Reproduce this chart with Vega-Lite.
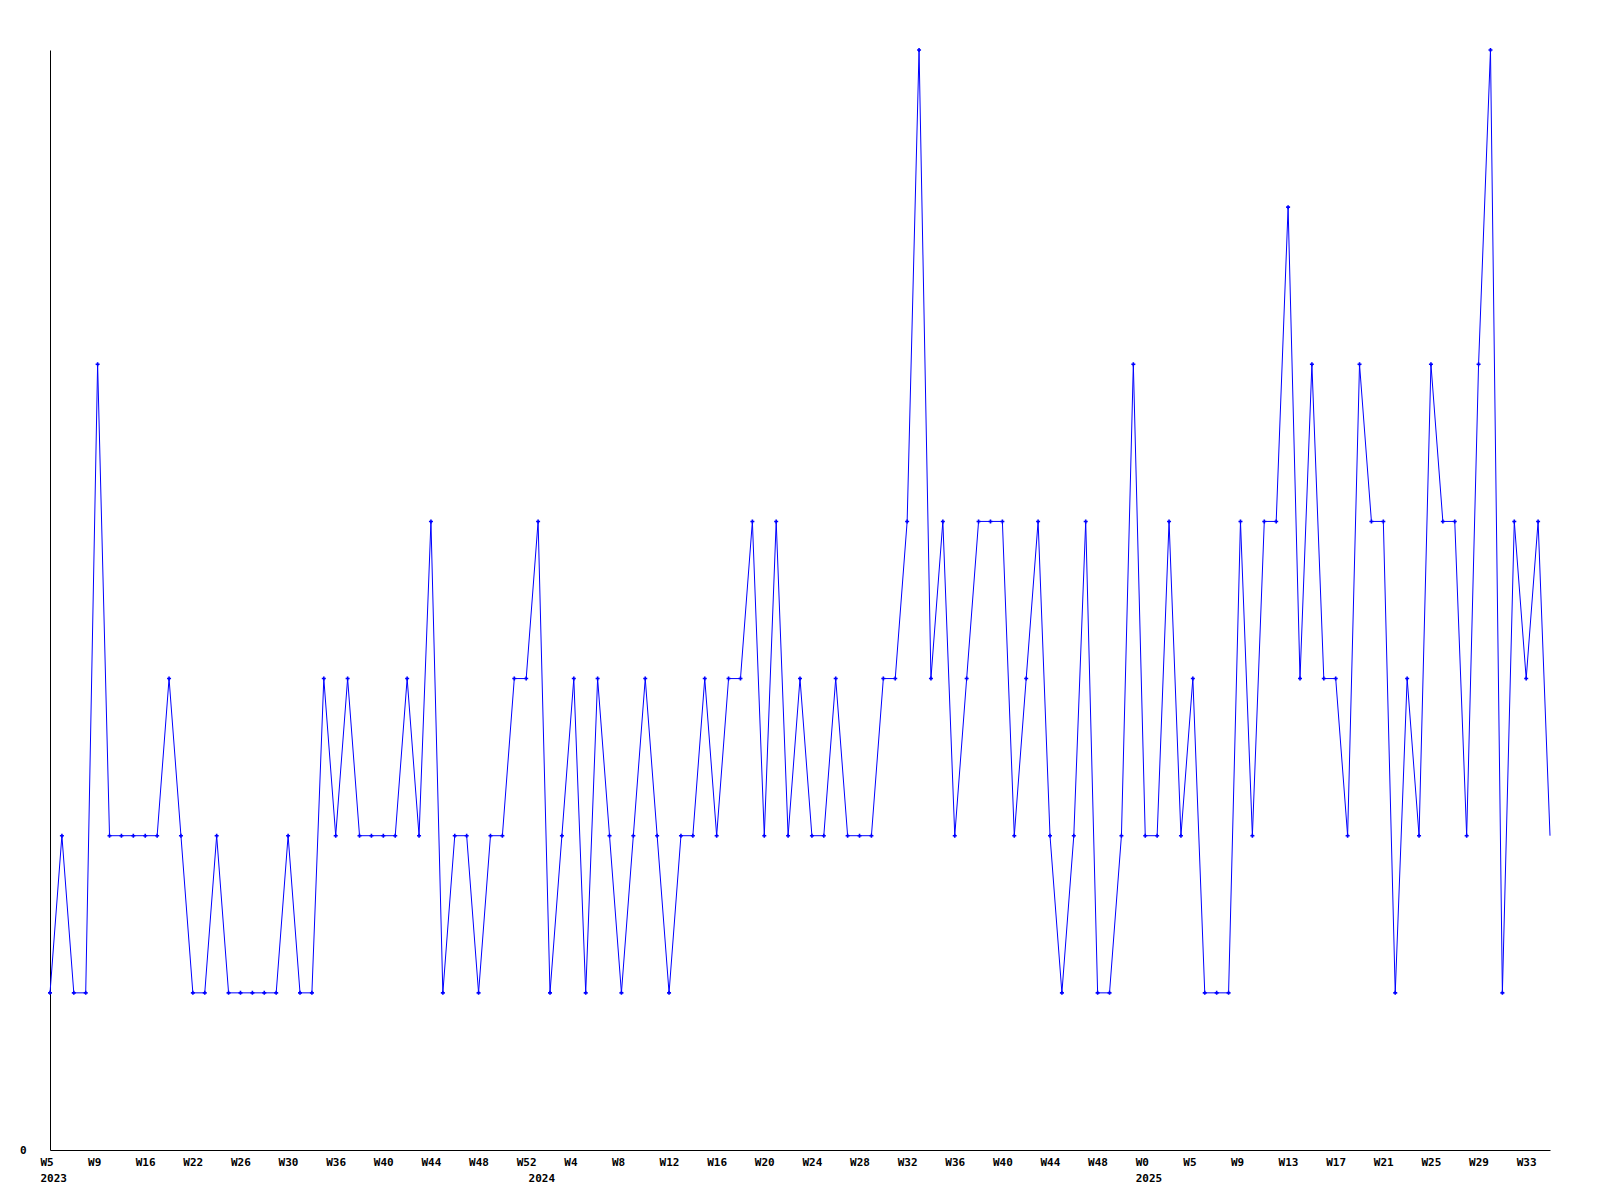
{
  "$schema": "https://vega.github.io/schema/vega-lite/v6.json",
  "width": 1500,
  "height": 1100,
  "autosize": {"type": "none"},
  "padding": {"left": 50, "top": 50, "right": 50, "bottom": 50},
  "background": "white",
  "config": {
    "view": {"stroke": null},
    "axis": {
      "labelFont": "DejaVu Sans Mono",
      "labelFontWeight": "bold",
      "labelFontSize": 11,
      "labelColor": "black",
      "domainColor": "black",
      "domainWidth": 1,
      "grid": false,
      "ticks": false
    }
  },
  "data": {
    "values": [
      {"i": 0, "v": 1}, {"i": 1, "v": 2}, {"i": 2, "v": 1}, {"i": 3, "v": 1}, {"i": 4, "v": 5},
      {"i": 5, "v": 2}, {"i": 6, "v": 2}, {"i": 7, "v": 2}, {"i": 8, "v": 2}, {"i": 9, "v": 2},
      {"i": 10, "v": 3}, {"i": 11, "v": 2}, {"i": 12, "v": 1}, {"i": 13, "v": 1}, {"i": 14, "v": 2},
      {"i": 15, "v": 1}, {"i": 16, "v": 1}, {"i": 17, "v": 1}, {"i": 18, "v": 1}, {"i": 19, "v": 1},
      {"i": 20, "v": 2}, {"i": 21, "v": 1}, {"i": 22, "v": 1}, {"i": 23, "v": 3}, {"i": 24, "v": 2},
      {"i": 25, "v": 3}, {"i": 26, "v": 2}, {"i": 27, "v": 2}, {"i": 28, "v": 2}, {"i": 29, "v": 2},
      {"i": 30, "v": 3}, {"i": 31, "v": 2}, {"i": 32, "v": 4}, {"i": 33, "v": 1}, {"i": 34, "v": 2},
      {"i": 35, "v": 2}, {"i": 36, "v": 1}, {"i": 37, "v": 2}, {"i": 38, "v": 2}, {"i": 39, "v": 3},
      {"i": 40, "v": 3}, {"i": 41, "v": 4}, {"i": 42, "v": 1}, {"i": 43, "v": 2}, {"i": 44, "v": 3},
      {"i": 45, "v": 1}, {"i": 46, "v": 3}, {"i": 47, "v": 2}, {"i": 48, "v": 1}, {"i": 49, "v": 2},
      {"i": 50, "v": 3}, {"i": 51, "v": 2}, {"i": 52, "v": 1}, {"i": 53, "v": 2}, {"i": 54, "v": 2},
      {"i": 55, "v": 3}, {"i": 56, "v": 2}, {"i": 57, "v": 3}, {"i": 58, "v": 3}, {"i": 59, "v": 4},
      {"i": 60, "v": 2}, {"i": 61, "v": 4}, {"i": 62, "v": 2}, {"i": 63, "v": 3}, {"i": 64, "v": 2},
      {"i": 65, "v": 2}, {"i": 66, "v": 3}, {"i": 67, "v": 2}, {"i": 68, "v": 2}, {"i": 69, "v": 2},
      {"i": 70, "v": 3}, {"i": 71, "v": 3}, {"i": 72, "v": 4}, {"i": 73, "v": 7}, {"i": 74, "v": 3},
      {"i": 75, "v": 4}, {"i": 76, "v": 2}, {"i": 77, "v": 3}, {"i": 78, "v": 4}, {"i": 79, "v": 4},
      {"i": 80, "v": 4}, {"i": 81, "v": 2}, {"i": 82, "v": 3}, {"i": 83, "v": 4}, {"i": 84, "v": 2},
      {"i": 85, "v": 1}, {"i": 86, "v": 2}, {"i": 87, "v": 4}, {"i": 88, "v": 1}, {"i": 89, "v": 1},
      {"i": 90, "v": 2}, {"i": 91, "v": 5}, {"i": 92, "v": 2}, {"i": 93, "v": 2}, {"i": 94, "v": 4},
      {"i": 95, "v": 2}, {"i": 96, "v": 3}, {"i": 97, "v": 1}, {"i": 98, "v": 1}, {"i": 99, "v": 1},
      {"i": 100, "v": 4}, {"i": 101, "v": 2}, {"i": 102, "v": 4}, {"i": 103, "v": 4}, {"i": 104, "v": 6},
      {"i": 105, "v": 3}, {"i": 106, "v": 5}, {"i": 107, "v": 3}, {"i": 108, "v": 3}, {"i": 109, "v": 2},
      {"i": 110, "v": 5}, {"i": 111, "v": 4}, {"i": 112, "v": 4}, {"i": 113, "v": 1}, {"i": 114, "v": 3},
      {"i": 115, "v": 2}, {"i": 116, "v": 5}, {"i": 117, "v": 4}, {"i": 118, "v": 4}, {"i": 119, "v": 2},
      {"i": 120, "v": 5}, {"i": 121, "v": 7}, {"i": 122, "v": 1}, {"i": 123, "v": 4}, {"i": 124, "v": 3},
      {"i": 125, "v": 4}, {"i": 126, "v": 2}
    ]
  },
  "encoding": {
    "x": {
      "field": "i",
      "type": "quantitative",
      "scale": {"domain": [0, 126], "nice": false, "zero": false},
      "axis": {
        "title": null,
        "values": [0, 4, 8, 12, 16, 20, 24, 28, 32, 36, 40, 41, 44, 48, 52, 56, 60, 64, 68, 72, 76, 80, 84, 88, 92, 96, 100, 104, 108, 112, 116, 120, 124],
        "labelExpr": "datum.value == 41 ? ['', '2024'] : [['W5','W9','W16','W22','W26','W30','W36','W40','W44','W48','W52','W4','W8','W12','W16','W20','W24','W28','W32','W36','W40','W44','W48','W0','W5','W9','W13','W17','W21','W25','W29','W33'][datum.value / 4], datum.value == 0 ? '2023' : (datum.value == 92 ? '2025' : '')]",
        "labelAlign": "left",
        "labelBaseline": "top",
        "labelOffset": -10,
        "labelPadding": 6,
        "labelLineHeight": 16,
        "labelFlush": false,
        "labelOverlap": false,
        "labelBound": false
      }
    },
    "y": {
      "field": "v",
      "type": "quantitative",
      "scale": {"domain": [0, 7], "nice": false, "zero": true},
      "axis": {
        "title": null,
        "values": [0],
        "labelPadding": 24,
        "labelAlign": "right",
        "labelBaseline": "middle",
        "labelFlush": false,
        "labelBound": false
      }
    }
  },
  "layer": [
    {"mark": {"type": "line", "color": "#0000ff", "strokeWidth": 1}},
    {
      "transform": [{"filter": "datum.i < 126"}],
      "mark": {"type": "point", "shape": "cross", "filled": true, "color": "#0000ff", "size": 16, "opacity": 1}
    }
  ]
}
